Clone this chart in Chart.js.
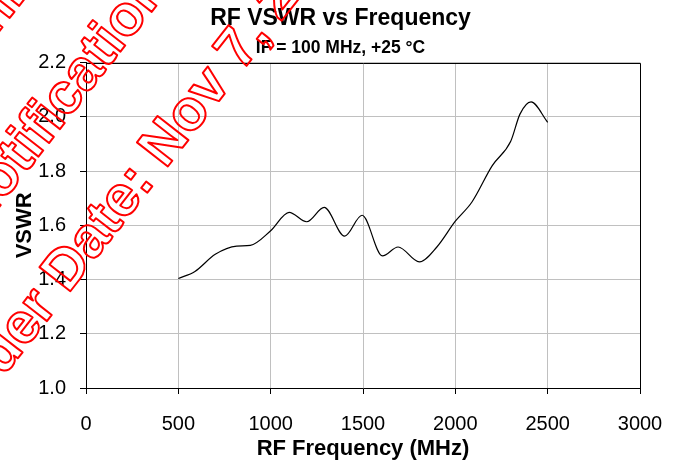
<!DOCTYPE html>
<html>
<head>
<meta charset="utf-8">
<script src="https://cdn.jsdelivr.net/npm/chart.js@4.4.1/dist/chart.umd.min.js"></script>
<style>
html,body{margin:0;padding:0;background:#fff;}
#wrap{width:681px;height:466px;}
</style>
</head>
<body>
<div id="wrap"><canvas id="c" width="681" height="466"></canvas></div>
<script>
// ---- data ----
const freqMHz = [500, 590, 700, 816, 890, 1000, 1100, 1195, 1290, 1400, 1495, 1605, 1690, 1805, 1900, 2000, 2090, 2200, 2300, 2350, 2410, 2500];
const vswr    = [1.404, 1.43, 1.493, 1.523, 1.526, 1.58, 1.648, 1.613, 1.666, 1.56, 1.637, 1.487, 1.52, 1.465, 1.52, 1.615, 1.686, 1.82, 1.91, 2.01, 2.055, 1.98];
const xTicks  = [0, 500, 1000, 1500, 2000, 2500, 3000];
const yTicks  = [1.0, 1.2, 1.4, 1.6, 1.8, 2.0, 2.2];
const titleText = 'RF VSWR vs Frequency';
const subtitleText = 'IF = 100 MHz, +25 °C';
const xTitle = 'RF Frequency (MHz)';
const yTitle = 'VSWR';
const watermarkLines = ['Archive', 'Notification', 'Last Order Date: Nov 7, 2014'];

Chart.defaults.font.family = "'Liberation Sans', Arial, sans-serif";
Chart.defaults.color = '#000';

const framePlugin = {
  id: 'frame',
  afterDatasetsDraw(chart) {
    const {ctx, chartArea: a} = chart;
    ctx.save();
    ctx.strokeStyle = '#000';
    ctx.lineWidth = 1;
    const l = Math.round(a.left) + 0.5, r = Math.round(a.right) + 0.5;
    const t = Math.round(a.top) + 0.5, b = Math.round(a.bottom) + 0.5;
    ctx.beginPath();
    ctx.moveTo(l, t); ctx.lineTo(r, t); ctx.lineTo(r, b);
    ctx.stroke();
    ctx.restore();
  }
};

const watermarkPlugin = {
  id: 'watermark',
  afterDraw(chart) {
    const ctx = chart.ctx;
    ctx.save();
    ctx.font = "bold 57px 'Liberation Sans', Arial, sans-serif";
    ctx.strokeStyle = '#ff0000';
    ctx.lineWidth = 2;
    ctx.lineJoin = 'round';
    ctx.translate(144, 197);
    ctx.rotate(-52 * Math.PI / 180);
    ctx.textBaseline = 'alphabetic';
    const l2 = watermarkLines[2];
    const pre = l2.slice(0, l2.indexOf(':'));
    ctx.strokeText(l2, -ctx.measureText(pre).width, 0);
    ctx.strokeText(watermarkLines[1], -132, -108);
    ctx.strokeText(watermarkLines[0], -60, -216);
    ctx.restore();
  }
};

const ctx = document.getElementById('c').getContext('2d');
new Chart(ctx, {
  type: 'line',
  data: {
    datasets: [{
      data: freqMHz.map((f, i) => ({x: f, y: vswr[i]})),
      borderColor: '#000',
      borderWidth: 1.2,
      pointRadius: 0,
      cubicInterpolationMode: 'monotone',
      fill: false
    }]
  },
  options: {
    responsive: false,
    animation: false,
    devicePixelRatio: 1,
    layout: {padding: 0},
    plugins: {
      legend: {display: false},
      tooltip: {enabled: false},
      title: {
        display: true, text: titleText, color: '#000',
        font: {size: 23, weight: 'bold'},
        padding: {top: 5, bottom: 5}
      },
      subtitle: {
        display: true, text: subtitleText, color: '#000',
        font: {size: 17.5, weight: 'bold'},
        padding: {top: 0, bottom: 4}
      }
    },
    scales: {
      x: {
        type: 'linear', min: xTicks[0], max: xTicks[xTicks.length - 1],
        afterBuildTicks(s) { s.ticks = xTicks.map(v => ({value: v})); },
        ticks: {font: {size: 20}, color: '#000', padding: 18, maxRotation: 0, callback: v => String(v)},
        grid: {color: '#c0c0c0', tickColor: '#000', tickLength: 6, lineWidth: 1},
        border: {color: '#000', width: 1},
        title: {display: true, text: xTitle, color: '#000', font: {size: 22, weight: 'bold'}, padding: {top: 0, bottom: 4}},
        afterFit(s) { s.height = 78; }
      },
      y: {
        type: 'linear', min: yTicks[0], max: yTicks[yTicks.length - 1],
        afterBuildTicks(s) { s.ticks = yTicks.map(v => ({value: v})); },
        ticks: {font: {size: 20}, color: '#000', padding: 14, callback: v => Number(v).toFixed(1)},
        grid: {color: '#c0c0c0', tickColor: '#000', tickLength: 6, lineWidth: 1},
        border: {color: '#000', width: 1},
        title: {display: true, text: yTitle, color: '#000', font: {size: 22, weight: 'bold'}, padding: {top: 12, bottom: 0}},
        afterFit(s) { s.width = 86; }
      },
      yRight: {
        type: 'linear', position: 'right', min: yTicks[0], max: yTicks[yTicks.length - 1],
        display: true,
        grid: {display: false, drawTicks: false},
        ticks: {display: false},
        border: {display: false},
        afterFit(s) { s.width = 41; }
      }
    }
  },
  plugins: [framePlugin, watermarkPlugin]
});
</script>
</body>
</html>
